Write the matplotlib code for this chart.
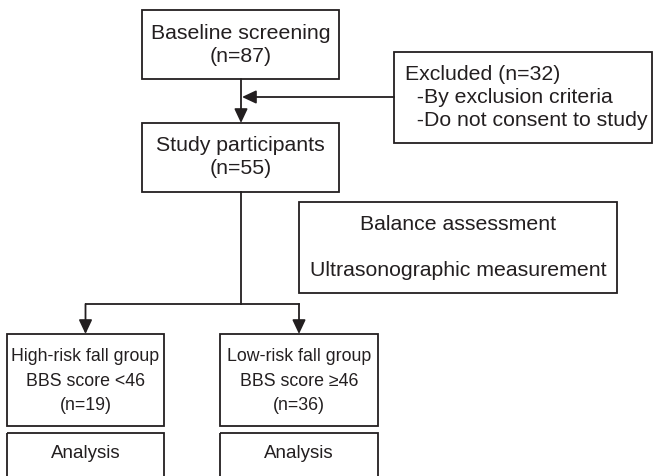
import matplotlib.pyplot as plt
from matplotlib.patches import Rectangle

plt.rcParams['font.family'] = ['Liberation Sans', 'DejaVu Sans']

# Box texts
baseline_text = "Baseline screening\n(n=87)"
excluded_text = "Excluded (n=32)\n  -By exclusion criteria\n  -Do not consent to study"
study_text = "Study participants\n(n=55)"
assess_lines = ["Balance assessment", "Ultrasonographic measurement"]
group_texts = ["High-risk fall group\nBBS score <46\n(n=19)",
               "Low-risk fall group\nBBS score \u226546\n(n=36)"]
analysis_text = "Analysis"

col = '#231f20'
lw = 1.3
fs = 15.3
ls = 1.27
fs_n = 12.8

fig = plt.figure(figsize=(6.54, 4.76), dpi=100)
ax = fig.add_axes([0, 0, 1, 1])
ax.set_xlim(0, 654)
ax.set_ylim(476, 0)
ax.axis('off')


def box(x0, y0, x1, y1):
    ax.add_patch(Rectangle((x0, y0), x1 - x0, y1 - y0, fill=False,
                           edgecolor=col, linewidth=lw))


def arrow(x0, y0, x1, y1):
    ax.annotate('', xy=(x1, y1), xytext=(x0, y0),
                arrowprops=dict(arrowstyle='-|>,head_length=0.85,head_width=0.4',
                                color=col, lw=lw, shrinkA=0, shrinkB=0))


# top boxes
box(142, 10, 339, 79)
ax.text(240.5, 45, baseline_text, ha='center', va='center', fontsize=fs,
        color=col, linespacing=ls)

box(394, 52, 652, 143)
ax.text(405, 97.5, excluded_text, ha='left', va='center', fontsize=fs,
        color=col, linespacing=ls)

box(142, 123, 339, 192)
ax.text(240.5, 157, study_text, ha='center', va='center', fontsize=fs,
        color=col, linespacing=ls)

arrow(241, 79, 241, 123)
arrow(394, 97, 242, 97)

# assessment box
box(299, 202, 617, 293)
ax.text(458, 224, assess_lines[0], ha='center', va='center', fontsize=fs, color=col)
ax.text(458, 270, assess_lines[1], ha='center', va='center', fontsize=fs, color=col)

# split
ax.plot([241, 241], [192, 304], color=col, lw=lw)
ax.plot([86, 299], [304, 304], color=col, lw=lw)
group_x = [(7, 164), (220, 378)]
for (x0, x1), txt in zip(group_x, group_texts):
    xc = (x0 + x1) / 2
    arrow(xc, 304, xc, 334)
    box(x0, 334, x1, 426)
    ax.text(xc, 381, txt, ha='center', va='center', fontsize=fs_n, color=col,
            linespacing=1.55)
    box(x0, 433, x1, 490)
    ax.text(xc, 454, analysis_text, ha='center', va='center', fontsize=13.5,
            color=col)

fig.savefig('out.png', dpi=100)
